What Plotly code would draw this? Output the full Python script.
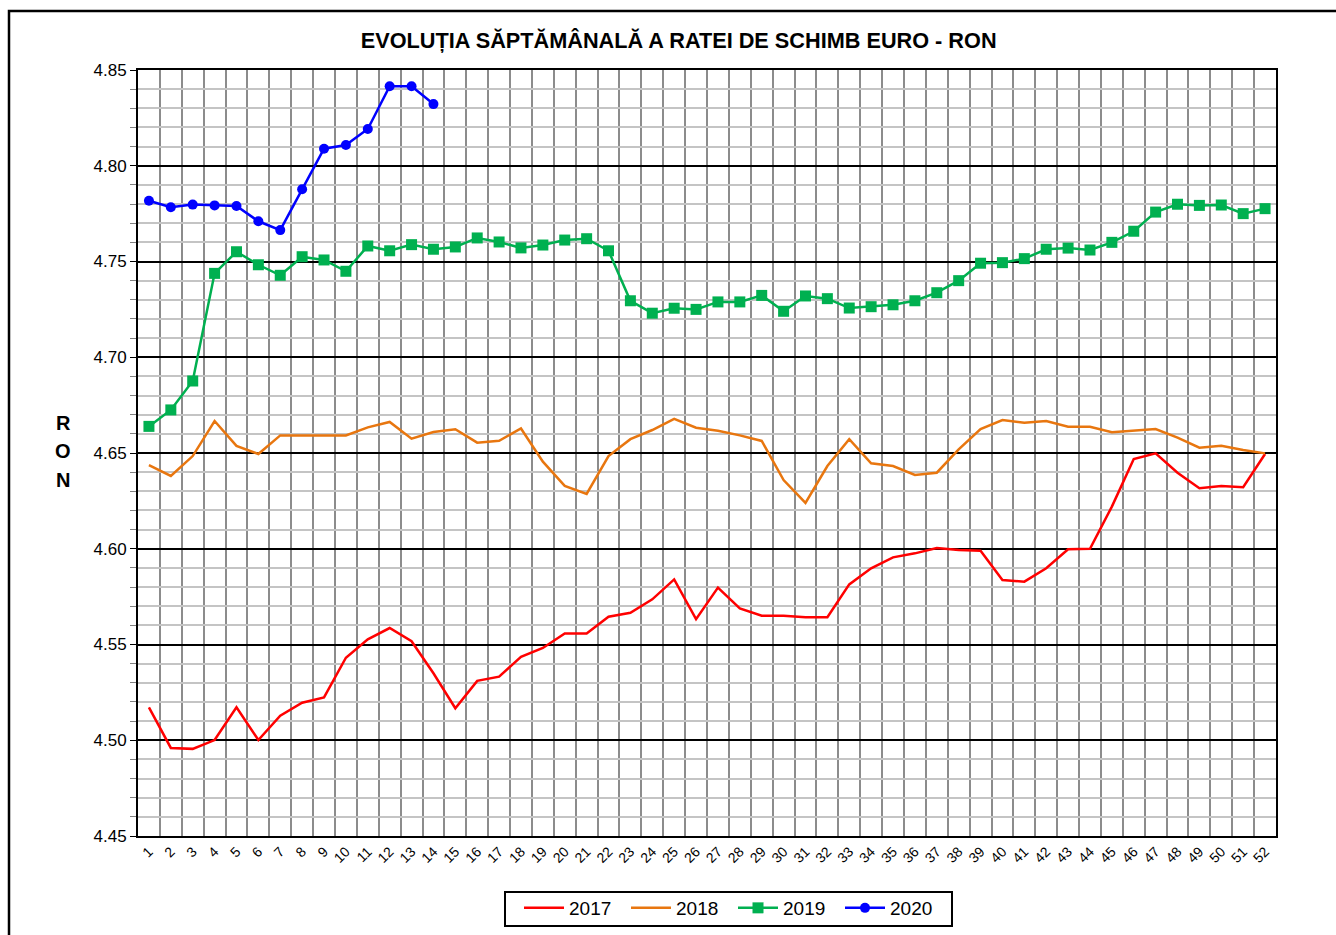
import plotly.graph_objects as go

weeks = list(range(1, 53))
week_labels = [str(w) for w in weeks]

y2017 = [4.5172, 4.4960, 4.4955, 4.5001, 4.5172, 4.5001, 4.5128, 4.5196, 4.5224, 4.5431,
         4.5527, 4.5586, 4.5517, 4.5350, 4.5167, 4.5310, 4.5332, 4.5436, 4.5482, 4.5558,
         4.5558, 4.5645, 4.5666, 4.5736, 4.5840, 4.5632, 4.5797, 4.5689, 4.5650, 4.5650,
         4.5642, 4.5642, 4.5814, 4.5898, 4.5955, 4.5976, 4.6004, 4.5993, 4.5990, 4.5837,
         4.5828, 4.5898, 4.5997, 4.6000, 4.6220, 4.6469, 4.6498, 4.6397, 4.6316, 4.6328,
         4.6321, 4.6495]

y2018 = [4.6437, 4.6380, 4.6484, 4.6667, 4.6537, 4.6495, 4.6592, 4.6592, 4.6592, 4.6592,
         4.6634, 4.6662, 4.6575, 4.6610, 4.6624, 4.6554, 4.6564, 4.6628, 4.6455, 4.6328,
         4.6286, 4.6484, 4.6572, 4.6620, 4.6678, 4.6632, 4.6616, 4.6592, 4.6563, 4.6359,
         4.6239, 4.6432, 4.6572, 4.6446, 4.6432, 4.6385, 4.6397, 4.6519, 4.6625, 4.6672,
         4.6658, 4.6667, 4.6637, 4.6637, 4.6608, 4.6616, 4.6625, 4.6580, 4.6528, 4.6538,
         4.6516, 4.6498]

y2019 = [4.6639, 4.6725, 4.6876, 4.7438, 4.7551, 4.7483, 4.7428, 4.7525, 4.7508, 4.7449,
         4.7581, 4.7556, 4.7588, 4.7564, 4.7576, 4.7623, 4.7602, 4.7571, 4.7586, 4.7612,
         4.7619, 4.7556, 4.7295, 4.7230, 4.7256, 4.7250, 4.7289, 4.7289, 4.7323, 4.7240,
         4.7320, 4.7306, 4.7257, 4.7264, 4.7274, 4.7295, 4.7337, 4.7400, 4.7491, 4.7494,
         4.7515, 4.7564, 4.7570, 4.7560, 4.7600, 4.7658, 4.7758, 4.7799, 4.7793, 4.7795,
         4.7750, 4.7776]

y2020 = [4.7817, 4.7783, 4.7797, 4.7793, 4.7790, 4.7710, 4.7664, 4.7877, 4.8089, 4.8108,
         4.8192, 4.8415, 4.8415, 4.8322]

y_ticks = [4.45, 4.50, 4.55, 4.60, 4.65, 4.70, 4.75, 4.80, 4.85]
y_tick_text = ["4.45", "4.50", "4.55", "4.60", "4.65", "4.70", "4.75", "4.80", "4.85"]

series = [
    ("2017", y2017, "#ff0000", None),
    ("2018", y2018, "#e8760f", None),
    ("2019", y2019, "#00b050", "square"),
    ("2020", y2020, "#0000ff", "circle"),
]

FONT = "Arial, Liberation Sans, sans-serif"

fig = go.Figure()
for name, vals, color, sym in series:
    x = weeks[:len(vals)]
    if sym is None:
        fig.add_trace(go.Scatter(x=x, y=vals, name=name, mode="lines",
                                 line=dict(color=color, width=2.5)))
    else:
        fig.add_trace(go.Scatter(x=x, y=vals, name=name, mode="lines+markers",
                                 line=dict(color=color, width=2.5),
                                 marker=dict(symbol=sym, size=11 if sym == "square" else 10,
                                             color=color)))

fig.update_layout(
    width=1336, height=935,
    margin=dict(l=138, r=60, t=70, b=99, autoexpand=False),
    paper_bgcolor="white", plot_bgcolor="white",
    font=dict(family=FONT, color="black"),
    title=dict(text="<b>EVOLUȚIA SĂPTĂMÂNALĂ A RATEI DE SCHIMB EURO - RON</b>",
               x=0.508, xanchor="center", xref="container",
               y=1 - 40 / 935, yanchor="middle", yref="container",
               font=dict(size=21.7, family=FONT, color="black")),
    showlegend=True,
    legend=dict(orientation="h", x=(519 - 138) / 1138, xanchor="left",
                y=(836 - 889) / 766, yanchor="top",
                borderwidth=0, bgcolor="rgba(0,0,0,0)",
                font=dict(size=19, family=FONT),
                itemwidth=40, entrywidth=52, entrywidthmode="pixels",
                traceorder="normal"),
)

fig.update_xaxes(
    range=[0.5, 52.5], tickmode="array", tickvals=weeks, ticktext=week_labels,
    tickangle=-45, tickfont=dict(size=14), ticks="", showgrid=False,
    showline=True, linecolor="black", linewidth=2, mirror=True, zeroline=False,
    minor=dict(tickvals=[w + 0.5 for w in weeks[:-1]], showgrid=True,
               gridcolor="#8c8c8c", gridwidth=2, ticks=""),
)

fig.update_yaxes(
    range=[4.45, 4.85], tickmode="array", tickvals=y_ticks, ticktext=y_tick_text,
    tickfont=dict(size=17), ticks="outside", ticklen=6, tickcolor="black", tickwidth=1,
    showgrid=True, gridcolor="black", gridwidth=2,
    showline=True, linecolor="black", linewidth=2, mirror=True, zeroline=False,
    minor=dict(dtick=0.01, showgrid=True, gridcolor="#c4c4c4", gridwidth=2,
               ticks="outside", ticklen=6, tickcolor="#808080"),
)

for letter, ypix in zip(["R", "O", "N"], [423, 451, 480]):
    fig.add_annotation(text="<b>" + letter + "</b>", xref="paper", yref="paper",
                       x=(63 - 138) / 1138, y=(836 - ypix) / 766,
                       xanchor="center", yanchor="middle", showarrow=False,
                       font=dict(size=20, family=FONT, color="black"))

# outer frame
fig.add_shape(type="rect", xref="paper", yref="paper",
              x0=(9 - 138) / 1138, x1=1.06, y0=-0.15, y1=(836 - 11) / 766,
              line=dict(color="black", width=2.5), fillcolor="rgba(0,0,0,0)", layer="below")

# legend box
fig.add_shape(type="rect", xref="paper", yref="paper",
              x0=(505 - 138) / 1138, x1=(952 - 138) / 1138,
              y0=(836 - 926) / 766, y1=(836 - 892) / 766,
              line=dict(color="black", width=2), fillcolor="white", layer="below")

fig.write_html("out.html", config={"displayModeBar": False},
               post_script="document.body.style.margin='0px';")
